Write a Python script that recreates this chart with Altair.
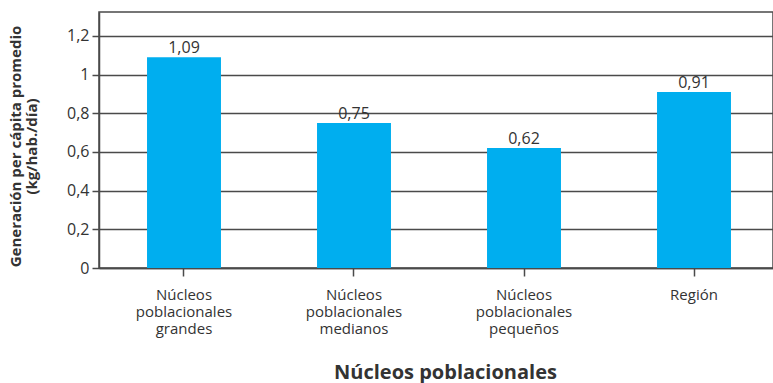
import altair as alt
import pandas as pd

# Generación per cápita por tipo de núcleo poblacional
categorias = [
    "Núcleos poblacionales grandes",
    "Núcleos poblacionales medianos",
    "Núcleos poblacionales pequeños",
    "Región",
]
valores = [1.09, 0.75, 0.62, 0.91]

df = pd.DataFrame({"nucleo": categorias, "generacion": valores})

FONT = "Open Sans"
TXT = "#333333"
LINE = "#4a4a4a"

x_enc = alt.X(
    "nucleo:N",
    sort=None,
    scale=alt.Scale(range=[0, 680], paddingInner=0.565, paddingOuter=0.2825),
    axis=alt.Axis(
        title="Núcleos poblacionales",
        titleFont=FONT,
        titleFontSize=20,
        titleFontWeight="bold",
        titleColor=TXT,
        titleBaseline="alphabetic",
        titleX=346,
        titleY=110,
        labelExpr="split(datum.label, ' ')",
        labelFont=FONT,
        labelFontSize=15,
        labelColor=TXT,
        labelLineHeight=17,
        labelPadding=11,
        labelAngle=0,
        tickSize=8,
        tickColor=LINE,
        tickWidth=1.5,
        domainColor=LINE,
        domainWidth=1.5,
        grid=False,
    ),
)

y_enc = alt.Y(
    "generacion:Q",
    scale=alt.Scale(domain=[0, 1.324], nice=False),
    axis=alt.Axis(
        title=["Generación per cápita promedio", "(kg/hab./día)"],
        titleFont=FONT,
        titleFontSize=15,
        titleFontWeight="bold",
        titleColor=TXT,
        titleBaseline="alphabetic",
        titleLineHeight=16,
        titleX=-79,
        titleY=134,
        values=[0, 0.2, 0.4, 0.6, 0.8, 1.0, 1.2],
        format=".1~f",
        labelExpr="replace(datum.label, '.', ',')",
        labelFont=FONT,
        labelFontSize=16,
        labelColor=TXT,
        labelPadding=3,
        tickSize=7,
        tickColor=LINE,
        tickWidth=1.5,
        domainColor=LINE,
        domainWidth=1.5,
        grid=True,
        gridColor=LINE,
        gridWidth=1.5,
    ),
)

base = alt.Chart(df)

barras = base.mark_bar(color="#00AEEF").encode(x=x_enc, y=y_enc)

etiquetas = (
    base.transform_calculate(
        etiqueta="replace(format(datum.generacion, '.2f'), '.', ',')"
    )
    .mark_text(
        font=FONT, fontSize=16, color=TXT, baseline="bottom", dy=-1
    )
    .encode(x=alt.X("nucleo:N", sort=None), y="generacion:Q", text="etiqueta:N")
)

chart = (
    alt.layer(barras, etiquetas)
    .properties(
        width=674,
        height=256,
        autosize=alt.AutoSizeParams(type="none"),
        padding={"left": 99, "top": 12, "right": 0, "bottom": 115},
        background="white",
    )
    .configure_view(stroke=LINE, strokeWidth=1.5)
)

chart.save("out.html", embed_options={"renderer": "svg", "actions": False})
